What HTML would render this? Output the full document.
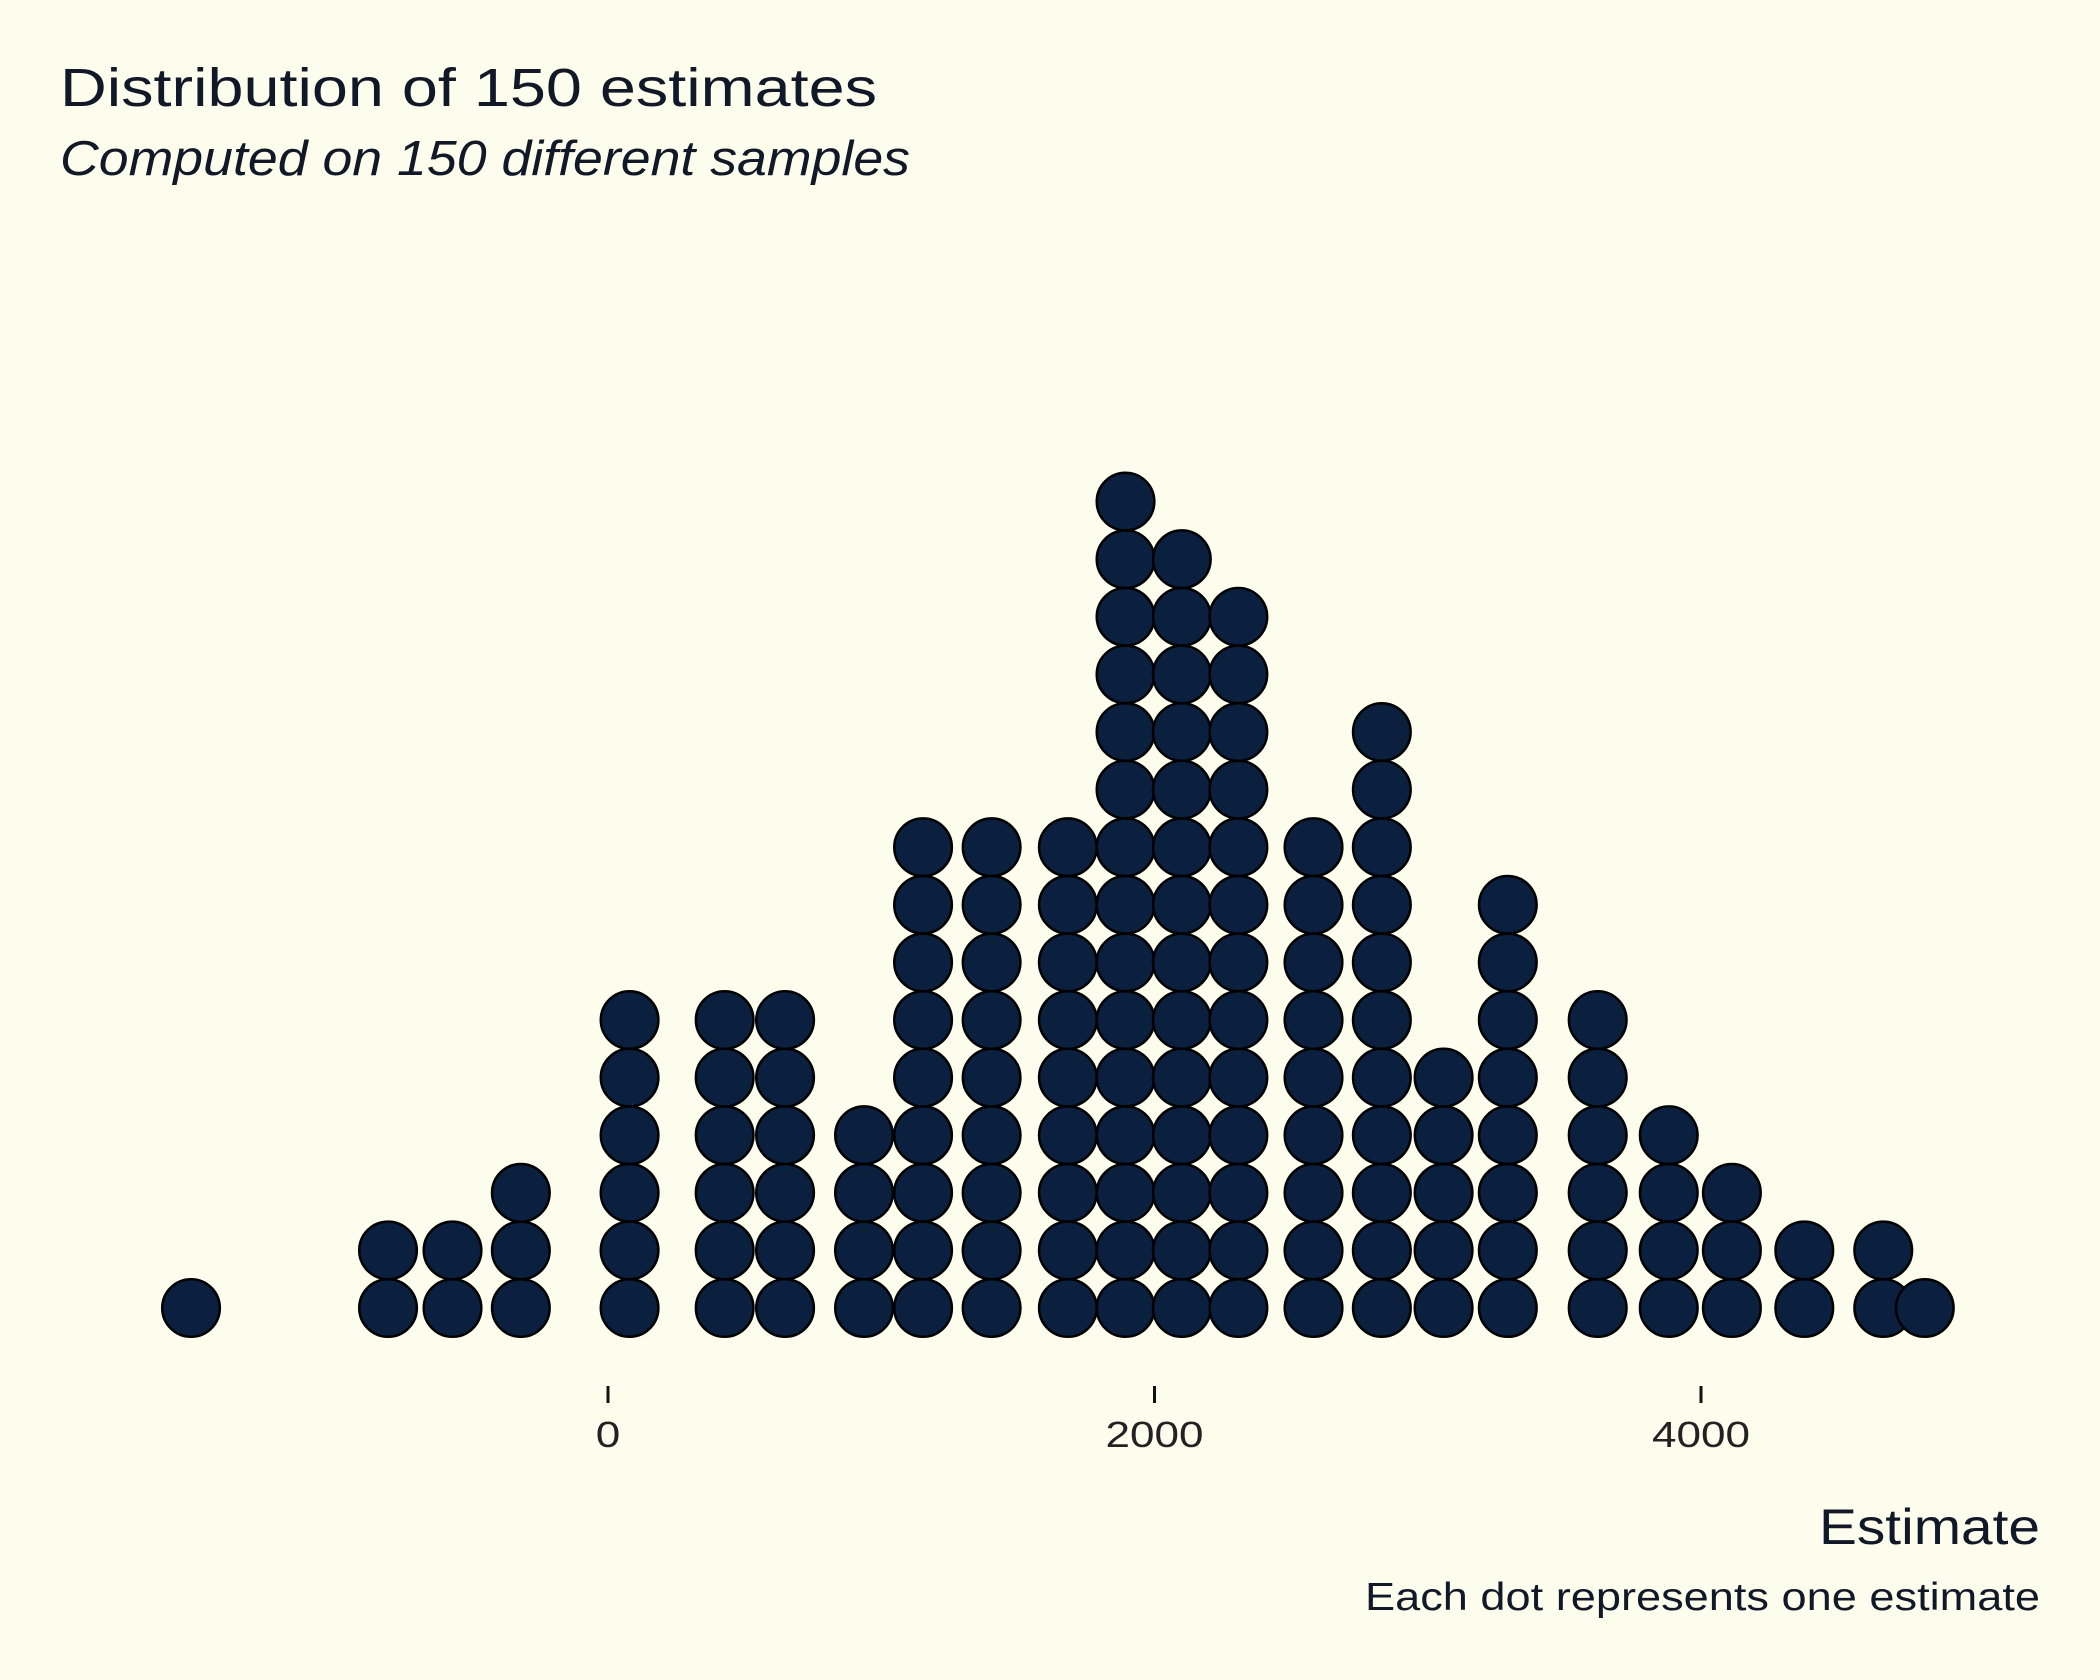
<!DOCTYPE html>
<html><head><meta charset="utf-8"><style>
html,body{margin:0;padding:0;background:#fdfdee;}
svg{display:block;font-family:"Liberation Sans",sans-serif;}
</style></head><body>
<svg id="chart" width="2100" height="1680" viewBox="0 0 2100 1680">
<rect width="2100" height="1680" fill="#fdfdee"/>
<text x="60" y="106" font-size="54" fill="#111827" textLength="817" lengthAdjust="spacingAndGlyphs">Distribution of 150 estimates</text>
<text x="60" y="175" font-size="49" font-style="italic" fill="#111827" textLength="850" lengthAdjust="spacingAndGlyphs">Computed on 150 different samples</text>
<g id="axis"></g>
<g id="dots"></g>
<text x="2040" y="1544" font-size="50" text-anchor="end" fill="#111827" textLength="221" lengthAdjust="spacingAndGlyphs">Estimate</text>
<text x="2040" y="1610" font-size="39" text-anchor="end" fill="#111827" textLength="675" lengthAdjust="spacingAndGlyphs">Each dot represents one estimate</text>
</svg>
<script>
const binCenters = [-1526,-805,-569,-319,79,427,648,937,1153,1404,1683,1894,2100,2307,2582,2832,3058,3293,3622,3882,4113,4378,4667,4819];
const binCounts = [1,2,2,3,6,6,6,4,9,9,9,15,14,13,9,11,5,8,6,4,3,2,2,1];
const tickValues = [0,2000,4000];
const tickLabels = ["0","2000","4000"];

const NS = "http://www.w3.org/2000/svg";
const x0 = 608, pxPer = 546.5/2000;
function xs(v){ return x0 + v*pxPer; }
const baseY = 1308, step = 57.6, r = 28.8;
function ys(i){ return baseY - i*step; }

const dots = document.getElementById('dots');
binCenters.forEach((c,bi)=>{
  for(let i=0;i<binCounts[bi];i++){
    const el = document.createElementNS(NS,'circle');
    el.setAttribute('cx', xs(c));
    el.setAttribute('cy', ys(i));
    el.setAttribute('r', r);
    el.setAttribute('fill', '#0b1f3f');
    el.setAttribute('stroke', '#000');
    el.setAttribute('stroke-width', '2.5');
    
    
    dots.appendChild(el);
  }
});

const axis = document.getElementById('axis');
tickValues.forEach((t,i)=>{
  const ln = document.createElementNS(NS,'line');
  ln.setAttribute('x1', xs(t)); ln.setAttribute('x2', xs(t));
  ln.setAttribute('y1', 1386); ln.setAttribute('y2', 1403);
  ln.setAttribute('stroke', '#111'); ln.setAttribute('stroke-width', '3');
  
  
  axis.appendChild(ln);
  const tx = document.createElementNS(NS,'text');
  tx.setAttribute('x', xs(t)); tx.setAttribute('y', 1447);
  tx.setAttribute('font-size', '36'); tx.setAttribute('text-anchor', 'middle');
  tx.setAttribute('fill', '#222');
  tx.setAttribute('textLength', tickLabels[i].length * 24.5);
  tx.setAttribute('lengthAdjust', 'spacingAndGlyphs');
  
  
  tx.textContent = tickLabels[i];
  axis.appendChild(tx);
});
</script>
</body></html>
